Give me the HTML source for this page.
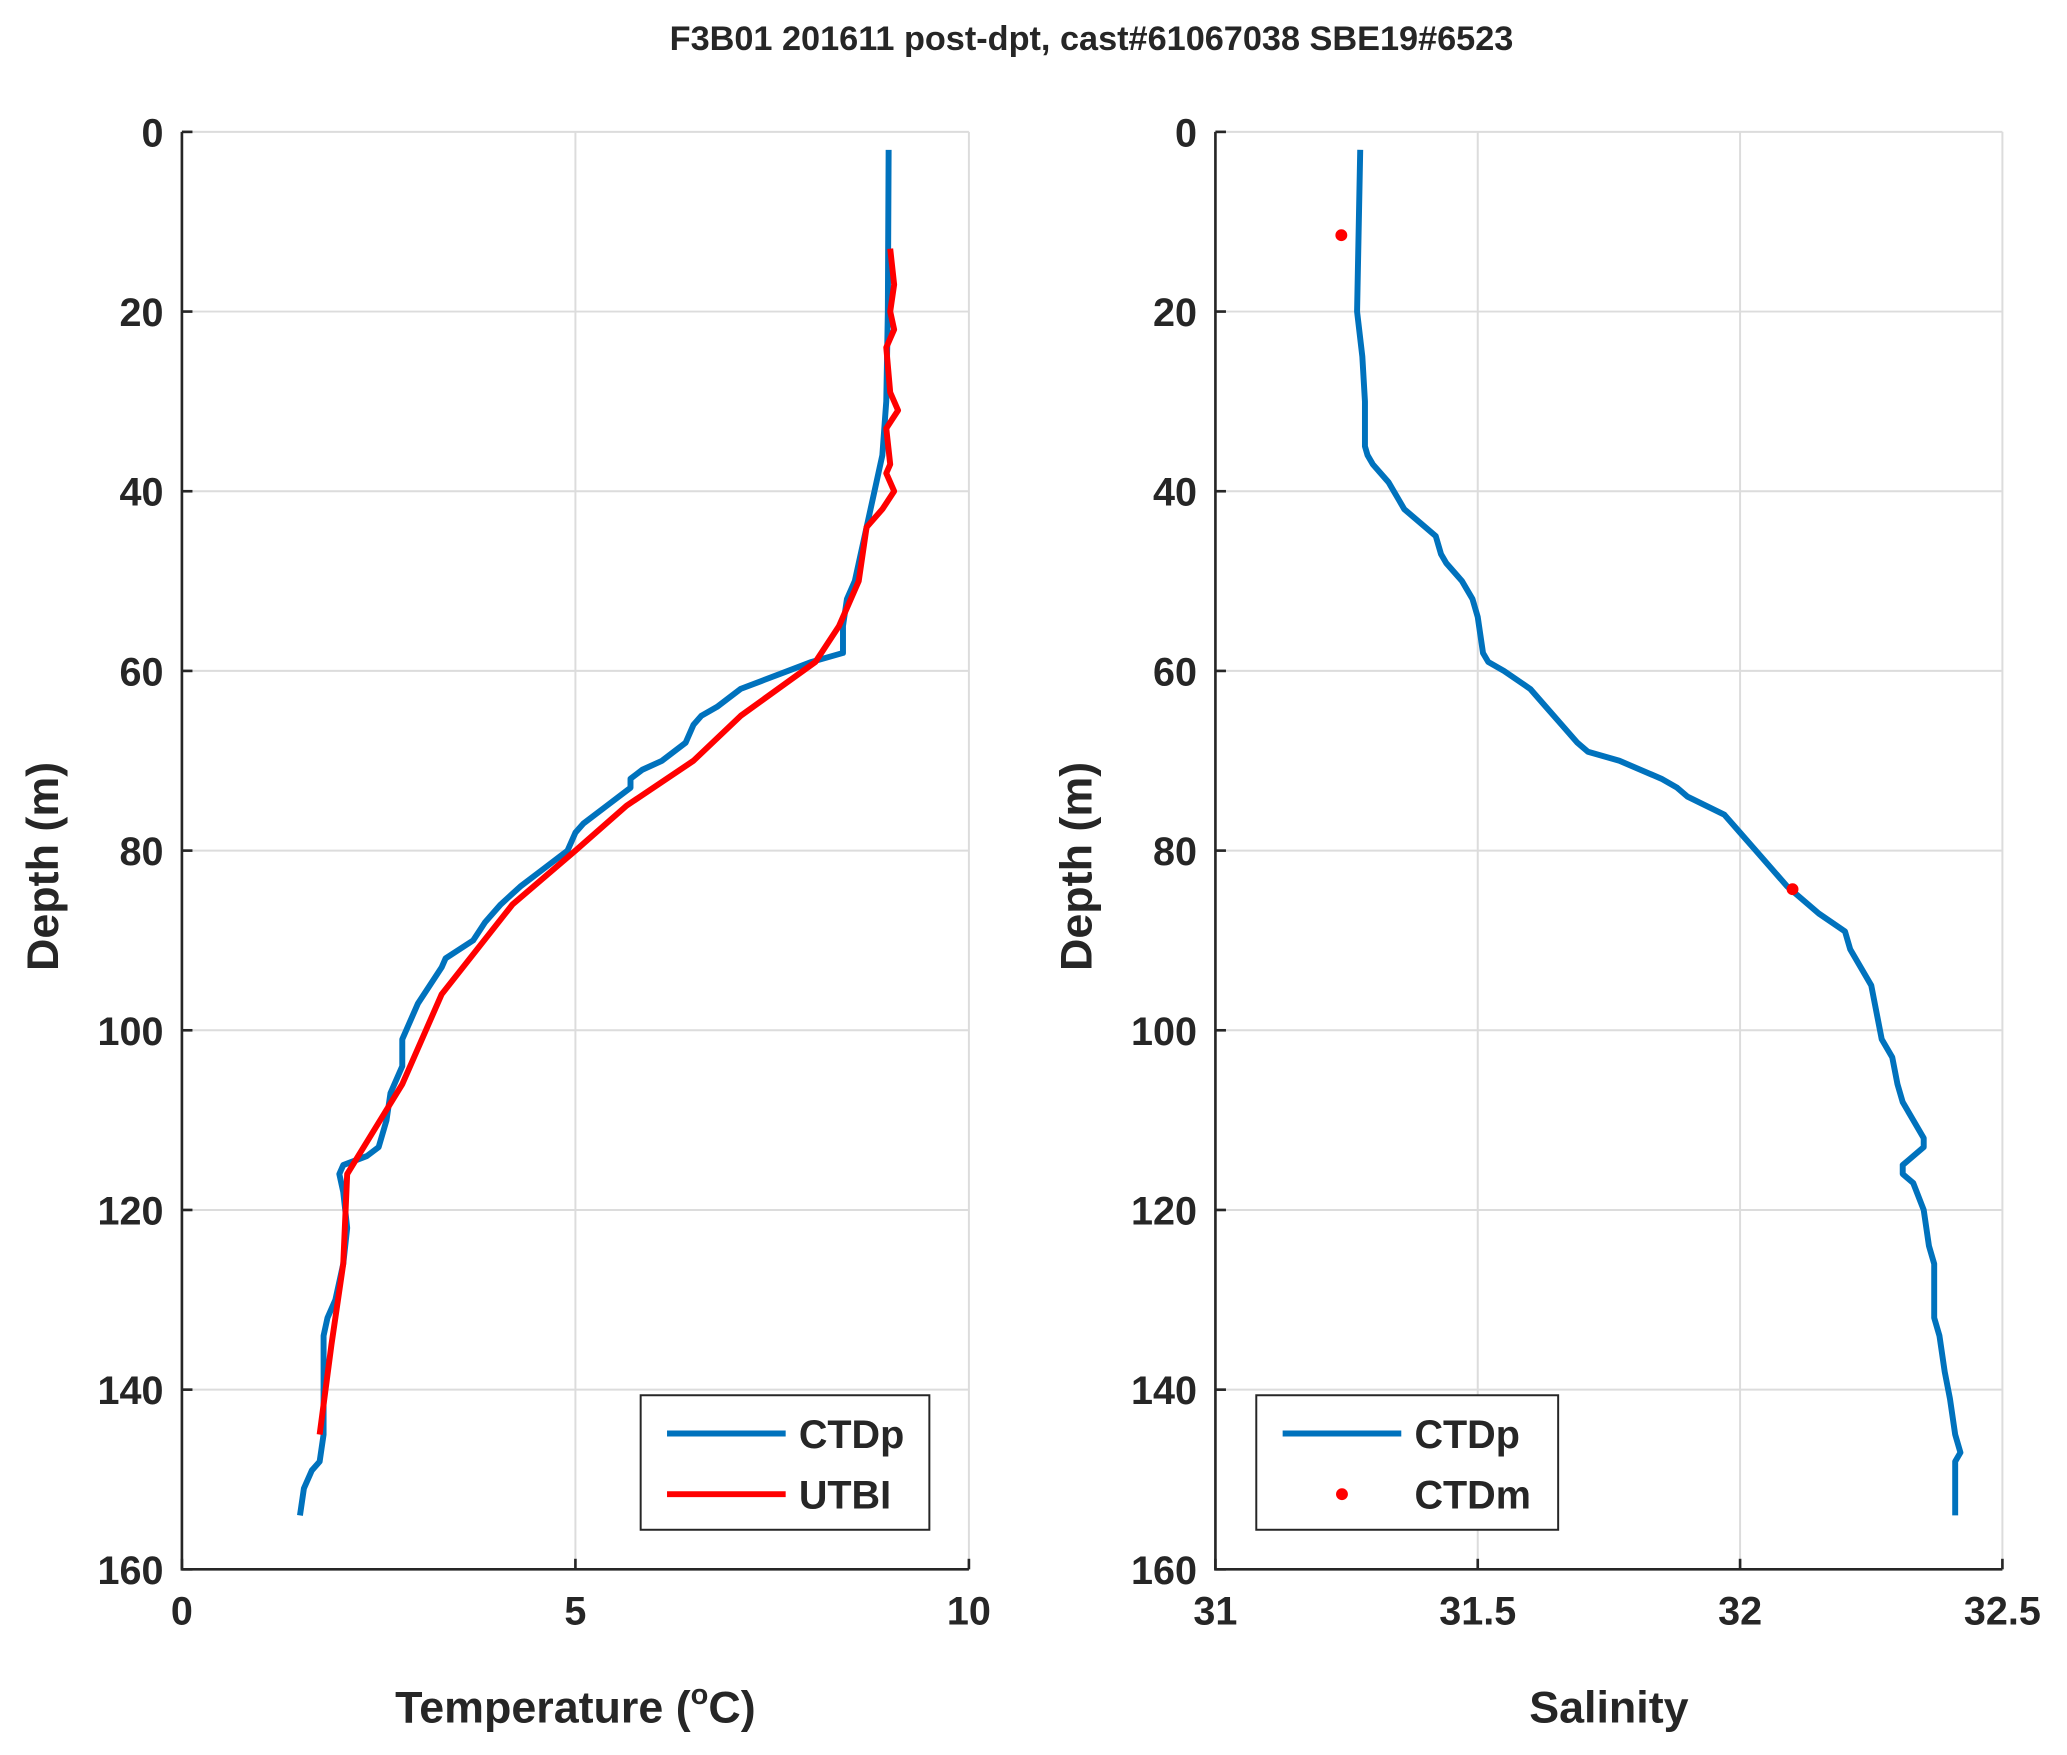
<!DOCTYPE html>
<html><head><meta charset="utf-8"><style>
html,body{margin:0;padding:0;background:#fff;}
svg text{font-family:"Liberation Sans",Arial,sans-serif;font-weight:bold;fill:#262626;}
</style></head><body>
<svg id="fig" width="2067" height="1750" viewBox="0 0 1568 1327" preserveAspectRatio="none" xmlns="http://www.w3.org/2000/svg">
<rect width="1568" height="1327" fill="#fff"/>
<text x="828" y="38" font-size="26" text-anchor="middle">F3B01 201611 post-dpt, cast#61067038 SBE19#6523</text>
<g id="left"></g>
<g id="right"></g>
</svg>
<script>
const tDepth=[2,20,30,36,38,40,44,48,50,52,55,58,59,60,61,62,64,65,66,68,70,71,72,73,75,77,78,80,82,84,86,88,90,92,93,95,97,99,101,104,107,110,113,114,115,116,118,122,126,130,132,134,140,145,148,149,151,154];
const tCTDp=[8.98,8.97,8.95,8.9,8.85,8.8,8.7,8.6,8.55,8.45,8.4,8.4,8.0,7.7,7.4,7.1,6.8,6.6,6.5,6.4,6.1,5.85,5.7,5.7,5.4,5.1,5.0,4.9,4.6,4.3,4.05,3.85,3.7,3.35,3.3,3.15,3.0,2.9,2.8,2.8,2.65,2.6,2.5,2.35,2.05,2.0,2.05,2.1,2.05,1.95,1.85,1.8,1.8,1.8,1.75,1.65,1.55,1.5];
const uDepth=[13,17,20,22,24,29,31,33,37,38,40,42,44,50,55,59,65,70,75,80,86,96,106,116,126,135,145];
const uTemp=[9.0,9.05,9.0,9.05,8.95,9.0,9.1,8.95,9.0,8.95,9.05,8.9,8.7,8.6,8.35,8.05,7.1,6.5,5.65,5.0,4.2,3.3,2.8,2.1,2.05,1.9,1.75];
const sDepth=[2,20,25,30,35,36,37,39,40,42,44,45,47,48,50,52,54,58,59,60,62,64,66,68,69,70,72,73,74,76,78,80,82,84,85,87,89,91,93,95,98,101,103,106,108,110,112,113,115,116,117,120,124,126,130,132,134,138,141,145,147,148,150,154];
const sCTDp=[31.276,31.27,31.28,31.285,31.285,31.29,31.3,31.33,31.34,31.36,31.4,31.42,31.43,31.44,31.47,31.49,31.5,31.51,31.52,31.55,31.6,31.63,31.66,31.69,31.71,31.77,31.85,31.88,31.9,31.97,32.0,32.03,32.06,32.09,32.11,32.15,32.2,32.21,32.23,32.25,32.26,32.27,32.29,32.3,32.31,32.33,32.35,32.35,32.31,32.31,32.33,32.35,32.36,32.37,32.37,32.37,32.38,32.39,32.4,32.41,32.42,32.41,32.41,32.41];
const mDepth=[11.5,84.3];
const mSal=[31.24,32.1];
const depthTicks=[0,20,40,60,80,100,120,140,160];
const tTicks=[0,5,10];
const sTicks=[31,31.5,32,32.5];

const NS='http://www.w3.org/2000/svg';
function mk(p,tag,at){const e=document.createElementNS(NS,tag);for(const k in at)e.setAttribute(k,at[k]);p.appendChild(e);return e;}
const Y0=100,Y1=1190;
const yS=d=>Y0+d/160*(Y1-Y0);

function panel(g,x0,x1,xmin,xmax,xt,xlabel){
  const xS=v=>x0+(v-xmin)/(xmax-xmin)*(x1-x0);
  for(const t of xt){const l=mk(g,'line',{x1:xS(t),x2:xS(t),y1:Y0,y2:Y1,stroke:'#dcdcdc','stroke-width':1.5});
    }
  for(const d of depthTicks){const l=mk(g,'line',{x1:x0,x2:x1,y1:yS(d),y2:yS(d),stroke:'#dcdcdc','stroke-width':1.5});
    }
  const ax=mk(g,'path',{d:`M${x0},${Y0}V${Y1}H${x1}`,fill:'none',stroke:'#262626','stroke-width':2});
  
  for(const d of depthTicks){mk(g,'line',{x1:x0,x2:x0+8,y1:yS(d),y2:yS(d),stroke:'#262626','stroke-width':2});
    const t=mk(g,'text',{x:x0-14,y:yS(d)+11,'font-size':30,'text-anchor':'end'});t.textContent=d;
    }
  for(const v of xt){mk(g,'line',{x1:xS(v),x2:xS(v),y1:Y1,y2:Y1-8,stroke:'#262626','stroke-width':2});
    const t=mk(g,'text',{x:xS(v),y:Y1+42,'font-size':30,'text-anchor':'middle'});t.textContent=v;
    }
  const yl=mk(g,'text',{x:0,y:0,'font-size':34,'text-anchor':'middle',transform:`translate(${x0-94},${(Y0+Y1)/2+12}) rotate(-90)`});
  yl.textContent='Depth (m)';
  const xl=mk(g,'text',{x:(x0+x1)/2,y:Y1+116,'font-size':34,'text-anchor':'middle'});
  xl.innerHTML=xlabel;
  return xS;
}
function line(g,xS,xs,ds,col,name){
  const p=mk(g,'polyline',{points:xs.map((v,i)=>xS(v)+','+yS(ds[i])).join(' '),fill:'none',stroke:col,'stroke-width':4.5,'stroke-linejoin':'round'});
  
}
const L=document.getElementById('left'),R=document.getElementById('right');
const xT=panel(L,138,735,0,10,tTicks,'Temperature (<tspan dy="-14" font-size="22">o</tspan><tspan dy="14">C)</tspan>');
line(L,xT,tCTDp,tDepth,'#0072BD','ctdp-temperature-line');
line(L,xT,uTemp,uDepth,'#FF0000','utbi-temperature-line');
const xSal=panel(R,922,1519,31,32.5,sTicks,'Salinity');
line(R,xSal,sCTDp,sDepth,'#0072BD','ctdp-salinity-line');
mSal.forEach((v,i)=>{const c=mk(R,'circle',{cx:xSal(v),cy:yS(mDepth[i]),r:4.5,fill:'#FF0000'});
  });
function legend(g,x,y,w,items){
  const lg=mk(g,'g',{});
  mk(lg,'rect',{x:x,y:y,width:w,height:102,fill:'#fff',stroke:'#262626','stroke-width':1.5});
  items.forEach((it,i)=>{const cy=y+29+i*46;
    if(it.dot)mk(lg,'circle',{cx:x+65,cy:cy,r:4.5,fill:it.c});
    else mk(lg,'line',{x1:x+20,x2:x+110,y1:cy,y2:cy,stroke:it.c,'stroke-width':4.5});
    const t=mk(lg,'text',{x:x+120,y:cy+11,'font-size':30});t.textContent=it.n;
    });
}
legend(L,486,1058,219,[{n:'CTDp',c:'#0072BD'},{n:'UTBI',c:'#FF0000'}]);
legend(R,953,1058,229,[{n:'CTDp',c:'#0072BD'},{n:'CTDm',c:'#FF0000',dot:true}]);
</script>
</body></html>
